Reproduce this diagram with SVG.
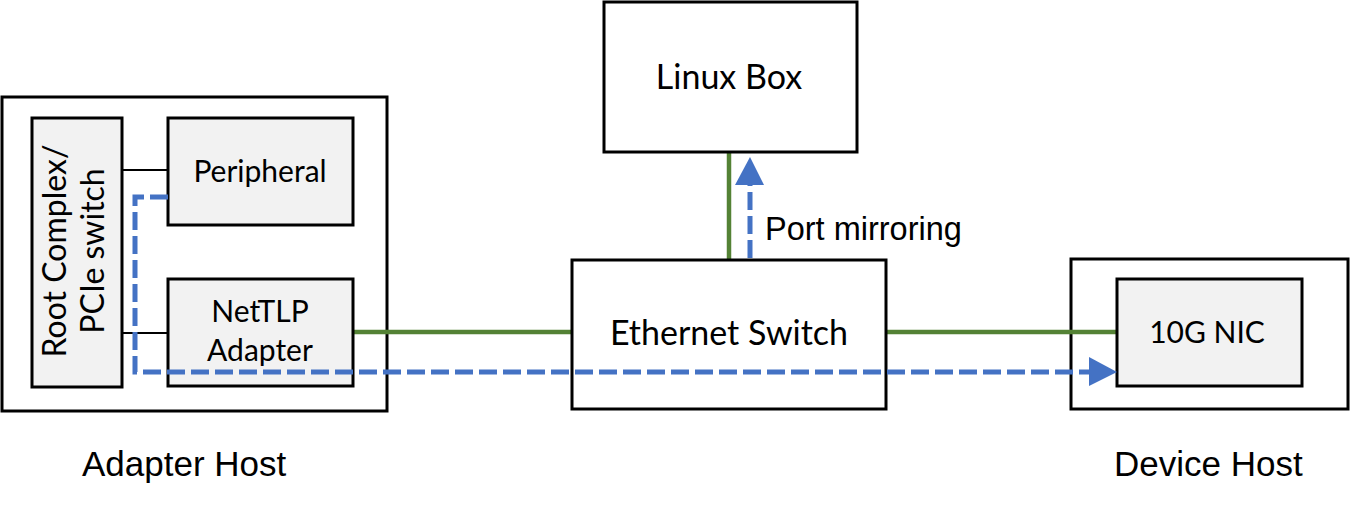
<svg xmlns="http://www.w3.org/2000/svg" width="1350" height="508" viewBox="0 0 1350 508">
<style>
.outer{fill:#ffffff;stroke:#000;stroke-width:3}
.inner{fill:#f2f2f2;stroke:#000;stroke-width:3}
.lbl{font-family:Lato,"Open Sans",sans-serif;fill:#000;text-anchor:middle}
.cap{font-family:"Liberation Sans",Arial,sans-serif;fill:#000}
.green{stroke:#548235;stroke-width:4.5;fill:none}
.blk{stroke:#000;stroke-width:2;fill:none}
.blue{stroke:#4472c4;stroke-width:5;fill:none;stroke-dasharray:18 6}
.head{fill:#4472c4}
</style>
<g id="adapter-host">
<rect class="outer" x="2" y="97" width="385" height="314"/>
</g>
<g id="device-host">
<rect class="outer" x="1071" y="259" width="277" height="150"/>
</g>
<g id="connectors">
<line class="green" x1="353" y1="332" x2="572" y2="332"/>
<line class="green" x1="886" y1="332" x2="1117" y2="332"/>
<line class="green" x1="729" y1="152" x2="729" y2="260"/>
<line class="blk" x1="122" y1="170" x2="168" y2="170"/>
<line class="blk" x1="122" y1="333" x2="168" y2="333"/>
</g>
<g id="root-complex">
<rect class="inner" x="32" y="118" width="90" height="269"/>
<text class="lbl" font-size="32" transform="translate(66,251) rotate(-90)"><tspan x="0" y="0">Root Complex/</tspan><tspan x="0" y="38">PCIe switch</tspan></text>
</g>
<g id="peripheral">
<rect class="inner" x="168" y="118" width="185" height="107"/>
<text class="lbl" font-size="30" x="260" y="182">Peripheral</text>
</g>
<g id="nettlp-adapter">
<rect class="inner" x="168" y="279" width="185" height="107"/>
<text class="lbl" font-size="30" x="260" y="322">NetTLP</text>
<text class="lbl" font-size="30" x="260" y="361">Adapter</text>
</g>
<g id="linux-box">
<rect class="outer" x="604" y="2" width="253" height="150"/>
<text class="lbl" font-size="34" x="729" y="89">Linux Box</text>
</g>
<g id="ethernet-switch">
<rect class="outer" x="572" y="260" width="314" height="149"/>
<text class="lbl" font-size="34" x="729" y="345">Ethernet Switch</text>
</g>
<g id="nic">
<rect class="inner" x="1117" y="279" width="185" height="107"/>
<text class="lbl" font-size="30" x="1207" y="343">10G NIC</text>
</g>
<g id="flows">
<polyline class="blue" points="168,197 135,197 135,372 1090,372"/>
<polygon class="head" points="1089,357 1117,372 1089,386"/>
<line class="blue" x1="750" y1="258" x2="750" y2="185"/>
<polygon class="head" points="735,185 750,157 764,185"/>
</g>
<text class="cap" font-size="32.5" x="765" y="240">Port mirroring</text>
<text class="cap" font-size="35" x="82" y="476">Adapter Host</text>
<text class="cap" font-size="35" x="1114" y="476">Device Host</text>
</svg>
